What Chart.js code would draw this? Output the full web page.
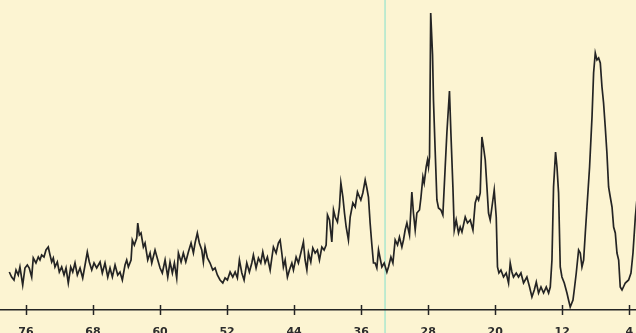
<!DOCTYPE html>
<html>
<head>
<meta charset="utf-8">
<script src="https://cdn.jsdelivr.net/npm/chart.js@4.4.1/dist/chart.umd.min.js"></script>
<style>
    html, body { margin: 0; padding: 0; background: #fcf4d2; }
    #wrap { width: 636px; height: 333px; position: relative; }
</style>
</head>
<body>
<div id="wrap"><canvas id="xrd"></canvas></div>
<script>
// 2-theta positions (degrees)
const angle = [
    77.99, 77.71, 77.43, 77.19, 76.92, 76.72, 76.39, 76.12, 75.84, 75.61,
    75.32, 75.13, 74.81, 74.53, 74.33, 74.13, 73.85, 73.61, 73.34, 73.13,
    72.93, 72.74, 72.54, 72.26, 72.02, 71.74, 71.46, 71.22, 70.95, 70.66,
    70.42, 70.15, 69.87, 69.55, 69.23, 68.95, 68.68, 68.44, 68.15, 67.88,
    67.56, 67.16, 66.89, 66.57, 66.24, 65.97, 65.69, 65.37, 65.05, 64.78,
    64.50, 64.18, 63.98, 63.78, 63.46, 63.31, 63.07, 62.78, 62.66, 62.47,
    62.27, 61.99, 61.79, 61.47, 61.19, 60.99, 60.60, 60.27, 60.00, 59.73,
    59.40, 59.08, 58.81, 58.53, 58.29, 58.01, 57.81, 57.49, 57.22, 56.93,
    56.62, 56.30, 56.02, 55.82, 55.55, 55.31, 55.02, 54.83, 54.63, 54.35,
    54.03, 53.71, 53.43, 53.16, 52.84, 52.51, 52.24, 51.96, 51.64, 51.32,
    51.04, 50.77, 50.53, 50.24, 49.97, 49.65, 49.34, 49.05, 48.86, 48.54,
    48.26, 47.98, 47.74, 47.46, 47.19, 46.86, 46.66, 46.47, 46.15, 45.88,
    45.67, 45.47, 45.28, 45.07, 44.80, 44.56, 44.27, 44.08, 43.76, 43.49,
    43.20, 42.89, 42.69, 42.48, 42.29, 42.01, 41.77, 41.49, 41.22, 40.98,
    40.69, 40.42, 40.18, 40.02, 39.78, 39.50, 39.30, 39.10, 38.83, 38.59,
    38.42, 38.18, 37.99, 37.79, 37.52, 37.31, 36.99, 36.71, 36.44, 36.20,
    36.04, 35.80, 35.52, 35.32, 35.13, 34.93, 34.72, 34.53, 34.33, 34.13,
    33.93, 33.53, 33.25, 32.93, 32.74, 32.45, 32.21, 31.94, 31.66, 31.43,
    31.14, 30.95, 30.75, 30.54, 30.23, 29.95, 29.76, 29.55, 29.35, 29.04,
    28.87, 28.63, 28.48, 28.24, 28.08, 27.96, 27.84, 27.70, 27.48, 27.37,
    27.17, 26.96, 26.77, 26.48, 26.25, 25.97, 25.77, 25.46, 25.29, 25.05,
    24.89, 24.66, 24.38, 24.18, 23.97, 23.58, 23.31, 22.98, 22.66, 22.39,
    22.18, 21.99, 21.79, 21.59, 21.40, 21.19, 20.99, 20.80, 20.60, 20.39,
    20.12, 19.88, 19.73, 19.56, 19.32, 19.01, 18.69, 18.41, 18.21, 18.01,
    17.82, 17.49, 17.22, 16.93, 16.62, 16.22, 15.90, 15.62, 15.34, 15.10,
    14.83, 14.54, 14.23, 13.91, 13.63, 13.43, 13.23, 13.04, 12.80, 12.63,
    12.44, 12.24, 12.04, 11.76, 11.44, 11.25, 11.05, 10.72, 10.57, 10.33,
    10.05, 9.85, 9.65, 9.45, 9.25, 9.05, 8.74, 8.45, 8.26, 8.06,
    7.86, 7.66, 7.46, 7.26, 7.07, 6.87, 6.67, 6.47, 6.27, 6.06,
    5.87, 5.67, 5.47, 5.27, 5.08, 4.87, 4.48, 4.08, 3.80, 3.56,
    3.28, 3.04
];

// recorder deflection (arbitrary units, 0 = baseline of the axis)
const counts = [
    38, 33, 30, 40, 35, 43, 25, 42, 45, 42,
    33, 52, 47, 53, 50, 55, 53, 60, 63, 55,
    48, 52, 43, 48, 38, 43, 35, 42, 27, 43,
    38, 47, 35, 42, 32, 45, 58, 48, 40, 47,
    42, 48, 37, 47, 33, 42, 33, 45, 35, 38,
    30, 45, 50, 43, 50, 70, 65, 72, 87, 75,
    77, 63, 67, 50, 57, 47, 60, 50, 42, 37,
    50, 33, 48, 37, 47, 32, 57, 48, 57, 48,
    58, 67, 57, 67, 77, 67, 60, 48, 63, 52,
    47, 40, 42, 35, 30, 27, 32, 30, 38, 33,
    38, 32, 50, 37, 30, 47, 38, 47, 55, 42,
    52, 47, 58, 47, 53, 40, 52, 63, 57, 67,
    70, 57, 43, 50, 33, 40, 47, 40, 53, 47,
    57, 68, 50, 40, 57, 48, 62, 57, 60, 50,
    63, 60, 65, 95, 90, 68, 100, 93, 88, 103,
    127, 113, 97, 83, 70, 93, 107, 103, 118, 113,
    110, 117, 130, 122, 113, 87, 65, 47, 47, 42,
    60, 43, 47, 38, 43, 53, 47, 70, 65, 73,
    63, 70, 80, 87, 75, 118, 97, 80, 97, 100,
    112, 133, 127, 143, 150, 143, 153, 297, 255, 210,
    160, 110, 102, 100, 95, 143, 177, 219, 177, 123,
    80, 90, 77, 83, 78, 93, 87, 90, 80, 107,
    113, 110, 117, 173, 163, 150, 123, 97, 90, 103,
    120, 93, 43, 37, 40, 33, 37, 27, 47, 38,
    33, 37, 33, 37, 27, 33, 23, 13, 20, 28,
    17, 23, 17, 23, 17, 23, 50, 123, 158, 143,
    117, 43, 33, 27, 17, 10, 3, 10, 20, 37,
    60, 57, 43, 50, 77, 103, 143, 193, 237, 257,
    250, 252, 247, 223, 207, 183, 157, 123, 113, 103,
    83, 77, 57, 50, 23, 20, 27, 30, 37, 57,
    93, 115
];

const tickValues = [76, 68, 60, 52, 44, 36, 28, 20, 12, 4];

const inkColor = '#242424';
const paperColor = '#fcf4d2';

const paperPlugin = {
    id: 'paper',
    beforeDraw(chart) {
        const ctx = chart.ctx;
        ctx.save();
        ctx.fillStyle = paperColor;
        ctx.fillRect(0, 0, chart.width, chart.height);
        // faint scanner line
        const px = chart.scales.x.getPixelForValue(33.15);
        ctx.strokeStyle = 'rgba(150, 228, 205, 0.8)';
        ctx.lineWidth = 1.5;
        ctx.beginPath();
        ctx.moveTo(px, 0);
        ctx.lineTo(px, chart.height);
        ctx.stroke();
        ctx.restore();
    },
    afterDraw(chart) {
        // tick marks crossing the axis line
        const ctx = chart.ctx;
        const xs = chart.scales.x;
        const y0 = chart.chartArea.bottom;
        ctx.save();
        ctx.strokeStyle = inkColor;
        ctx.lineWidth = 1.5;
        tickValues.forEach(v => {
            const px = Math.round(xs.getPixelForValue(v)) + 0.5;
            ctx.beginPath();
            ctx.moveTo(px, y0 - 5);
            ctx.lineTo(px, y0 + 5);
            ctx.stroke();
        });
        ctx.restore();
    }
};

new Chart(document.getElementById('xrd'), {
    type: 'line',
    data: {
        datasets: [{
            data: angle.map((a, i) => ({ x: a, y: counts[i] })),
            borderColor: inkColor,
            borderWidth: 1.7,
            pointRadius: 0,
            tension: 0,
            fill: false
        }]
    },
    options: {
        responsive: true,
        maintainAspectRatio: false,
        animation: false,
        layout: { padding: 0 },
        plugins: {
            legend: { display: false },
            tooltip: { enabled: false }
        },
        scales: {
            x: {
                type: 'linear',
                reverse: true,
                min: 3.2,
                max: 79.1,
                afterBuildTicks: scale => {
                    scale.ticks = tickValues.map(v => ({ value: v }));
                },
                afterFit: scale => {
                    scale.height = 23;
                    scale.paddingLeft = 0;
                    scale.paddingRight = 0;
                },
                grid: { display: false },
                border: { display: true, color: inkColor, width: 1.5 },
                ticks: {
                    autoSkip: false,
                    maxRotation: 0,
                    padding: 8,
                    color: '#2c2c2c',
                    font: { family: 'DejaVu Sans', size: 11, weight: 'bold' }
                }
            },
            y: {
                display: false,
                min: 0,
                max: 310
            }
        }
    },
    plugins: [paperPlugin]
});
</script>
</body>
</html>
